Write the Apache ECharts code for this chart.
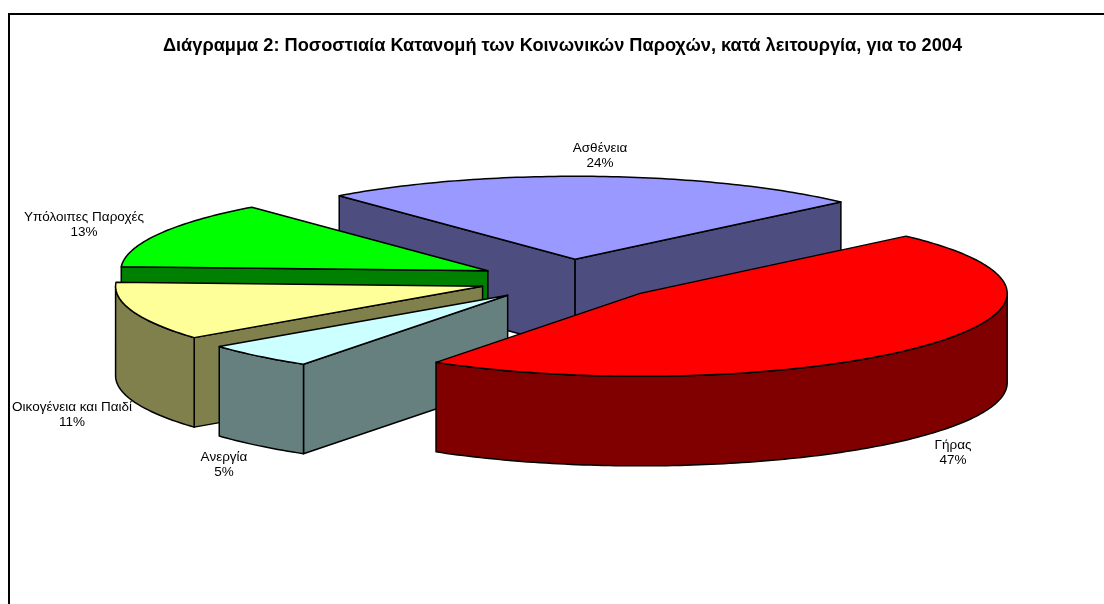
<!DOCTYPE html>
<html><head><meta charset="utf-8">
<style>html,body{margin:0;padding:0;background:#fff}#c{width:1104px;height:604px}</style>
<script src="https://cdn.jsdelivr.net/npm/echarts@6/dist/echarts.min.js"></script>
</head><body><div id="c"></div>
<script>
const titleText = 'Διάγραμμα 2: Ποσοστιαία Κατανομή των Κοινωνικών Παροχών, κατά λειτουργία, για το 2004';
const categories = ['Γήρας','Ανεργία','Οικογένεια και Παιδί','Υπόλοιπες Παροχές','Ασθένεια'];
const values = [46.5,5,11.4,13.1,24];
const topColors = ['#FF0000','#CCFFFF','#FFFF99','#00FF00','#9999FF'];
const sideColors = ['#800000','#668080','#80804D','#008000','#4D4D80'];
const drawOrder = [4,3,2,1,0];
const labelAnchors = [[953,453],[224,464.5],[72,415],[84,224.5],[600,155.5]];

const pie = {cx:570, cy:280, a:367, b:83, depth:89.5, explode:0.25, startDeg:43.6};
const total = values.reduce((s,v)=>s+v,0);
const rad = d => d*Math.PI/180;
function sliceAngles(i){
  let start = pie.startDeg;
  for(let k=0;k<i;k++) start -= values[k]/total*360;
  return [start, start - values[i]/total*360];
}
function sliceShapes(i){
  const [s,e] = sliceAngles(i), mid=(s+e)/2;
  const ox = pie.cx + pie.explode*pie.a*Math.cos(rad(mid));
  const oy = pie.cy - pie.explode*pie.b*Math.sin(rad(mid));
  const pt = (t,dz=0)=>[ox+pie.a*Math.cos(rad(t)), oy-pie.b*Math.sin(rad(t))+dz];
  const arc = (a,b,dz=0)=>{const n=Math.max(2,Math.ceil(Math.abs(a-b)));const r=[];
    for(let j=0;j<=n;j++) r.push(pt(a+(b-a)*j/n,dz)); return r;};
  const apex=[ox,oy], apexB=[ox,oy+pie.depth];
  const faces=[];
  // A radial wall shows only when its outward normal turns toward the viewer
  if(Math.cos(rad(s))<0) faces.push([apex,pt(s),pt(s,pie.depth),apexB]);
  if(Math.cos(rad(e))>0) faces.push([apex,pt(e),pt(e,pie.depth),apexB]);
  const rs=Math.min(s,0), re=Math.max(e,-180);
  let rim=null;
  if(rs>re) rim=arc(rs,re).concat(arc(re,rs,pie.depth));
  const top=[apex].concat(arc(s,e));
  return {faces,rim,top};
}
const stroke={stroke:'#000',lineWidth:1.5,lineJoin:'round'};
const chart = echarts.init(document.getElementById('c'),null,{renderer:'canvas'});
chart.setOption({
  animation:false,
  backgroundColor:'#fff',
  title:{text:titleText,left:562.5,top:37,padding:0,textAlign:'center',
    textStyle:{fontFamily:'Liberation Sans',fontSize:18.2,fontWeight:'bold',color:'#000'}},
  graphic:[{type:'rect',silent:true,shape:{x:9,y:14,width:1200,height:800},
    style:{fill:'none',stroke:'#000',lineWidth:2}}],
  series:[
    {type:'custom',coordinateSystem:'none',silent:true,z:2,data:drawOrder,
     renderItem:(p,api)=>{
       const i=api.value(0), sh=sliceShapes(i);
       const kids=[];
       sh.faces.forEach(f=>kids.push({type:'polygon',shape:{points:f},style:{fill:sideColors[i],...stroke}}));
       if(sh.rim) kids.push({type:'polygon',shape:{points:sh.rim},style:{fill:sideColors[i],...stroke}});
       kids.push({type:'polygon',shape:{points:sh.top},style:{fill:topColors[i],...stroke}});
       return {type:'group',children:kids};
     }},
    {type:'custom',coordinateSystem:'none',silent:true,z:3,data:values.map((v,i)=>i),
     renderItem:(p,api)=>{
       const i=api.value(0), [x,y]=labelAnchors[i];
       return {type:'text',style:{x,y,text:categories[i]+'\n'+Math.round(values[i])+'%',align:'center',verticalAlign:'middle',
         fontFamily:'Liberation Sans',fontSize:13.5,lineHeight:15,fill:'#000'}};
     }}
  ]
});
</script></body></html>
